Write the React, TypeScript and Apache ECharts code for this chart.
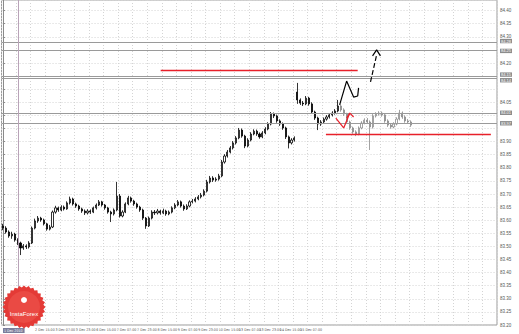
import React, { useEffect, useRef } from "react";
import * as echarts from "echarts";

// ---------- data ----------
const N_CATS = 170;
const Y_MIN = 83.2;
const Y_MAX = 84.4405;
const Y_STEP = 0.05;

// [open, close, low, high]
const blackCandles: number[][] = [
  [83.578, 83.57, 83.562, 83.586], [83.57, 83.555, 83.549, 83.577], [83.555, 83.54, 83.533, 83.561],
  [83.54, 83.547, 83.529, 83.556], [83.547, 83.524, 83.518, 83.552], [83.524, 83.513, 83.505, 83.531],
  [83.513, 83.494, 83.467, 83.518], [83.494, 83.502, 83.487, 83.509], [83.502, 83.498, 83.49, 83.508],
  [83.498, 83.513, 83.492, 83.52], [83.513, 83.57, 83.509, 83.576], [83.57, 83.597, 83.565, 83.606],
  [83.597, 83.608, 83.59, 83.616], [83.608, 83.601, 83.594, 83.613], [83.601, 83.586, 83.58, 83.606],
  [83.586, 83.566, 83.56, 83.59], [83.566, 83.574, 83.561, 83.582], [83.574, 83.631, 83.57, 83.637],
  [83.631, 83.647, 83.625, 83.655], [83.647, 83.639, 83.632, 83.652], [83.639, 83.65, 83.634, 83.657],
  [83.65, 83.643, 83.637, 83.656], [83.643, 83.666, 83.64, 83.672], [83.666, 83.681, 83.66, 83.69],
  [83.681, 83.662, 83.656, 83.686], [83.662, 83.654, 83.647, 83.667], [83.654, 83.643, 83.636, 83.659],
  [83.643, 83.635, 83.628, 83.648], [83.635, 83.628, 83.62, 83.641], [83.628, 83.635, 83.622, 83.642],
  [83.635, 83.631, 83.624, 83.641], [83.631, 83.647, 83.627, 83.652], [83.647, 83.658, 83.641, 83.664],
  [83.658, 83.67, 83.654, 83.677], [83.67, 83.658, 83.652, 83.674], [83.658, 83.647, 83.64, 83.662],
  [83.647, 83.631, 83.625, 83.651], [83.631, 83.624, 83.593, 83.636], [83.624, 83.639, 83.618, 83.645],
  [83.639, 83.692, 83.634, 83.746], [83.692, 83.616, 83.61, 83.7], [83.616, 83.631, 83.611, 83.638],
  [83.631, 83.662, 83.627, 83.668], [83.662, 83.685, 83.657, 83.693], [83.685, 83.673, 83.667, 83.69],
  [83.673, 83.662, 83.655, 83.678], [83.662, 83.65, 83.644, 83.667], [83.65, 83.639, 83.632, 83.655],
  [83.639, 83.608, 83.601, 83.644], [83.608, 83.578, 83.567, 83.612], [83.578, 83.608, 83.574, 83.614],
  [83.608, 83.631, 83.603, 83.638], [83.631, 83.628, 83.62, 83.639], [83.628, 83.635, 83.622, 83.643],
  [83.635, 83.628, 83.621, 83.64], [83.628, 83.635, 83.623, 83.644], [83.635, 83.624, 83.617, 83.64],
  [83.624, 83.631, 83.619, 83.637], [83.631, 83.647, 83.626, 83.653], [83.647, 83.658, 83.642, 83.665],
  [83.658, 83.67, 83.653, 83.677], [83.67, 83.654, 83.648, 83.675], [83.654, 83.643, 83.636, 83.66],
  [83.643, 83.654, 83.639, 83.661], [83.654, 83.67, 83.649, 83.676], [83.67, 83.673, 83.664, 83.681],
  [83.673, 83.681, 83.668, 83.688], [83.681, 83.689, 83.676, 83.696], [83.689, 83.696, 83.683, 83.704],
  [83.696, 83.711, 83.691, 83.718], [83.711, 83.746, 83.706, 83.754], [83.746, 83.761, 83.74, 83.769],
  [83.761, 83.753, 83.746, 83.768], [83.753, 83.757, 83.747, 83.764], [83.757, 83.769, 83.751, 83.777],
  [83.769, 83.822, 83.764, 83.83], [83.822, 83.845, 83.816, 83.852], [83.845, 83.86, 83.839, 83.868],
  [83.86, 83.876, 83.855, 83.883], [83.876, 83.895, 83.87, 83.902], [83.895, 83.914, 83.889, 83.921],
  [83.914, 83.944, 83.909, 83.952], [83.944, 83.921, 83.915, 83.95], [83.921, 83.883, 83.875, 83.926],
  [83.883, 83.906, 83.878, 83.913], [83.906, 83.929, 83.901, 83.936], [83.929, 83.94, 83.924, 83.947],
  [83.94, 83.929, 83.922, 83.946], [83.929, 83.918, 83.911, 83.935], [83.918, 83.933, 83.913, 83.94],
  [83.933, 83.948, 83.928, 83.955], [83.948, 83.967, 83.943, 83.974], [83.967, 84.005, 83.962, 84.013],
  [84.005, 83.998, 83.99, 84.011], [83.998, 83.979, 83.972, 84.003], [83.979, 83.967, 83.96, 83.985],
  [83.967, 83.952, 83.945, 83.973], [83.952, 83.918, 83.91, 83.957], [83.918, 83.895, 83.874, 83.923],
  [83.895, 83.906, 83.889, 83.913], [83.906, 83.914, 83.9, 83.92], [84.089, 84.059, 84.044, 84.124],
  [84.059, 84.047, 84.04, 84.065], [84.047, 84.044, 84.036, 84.055], [84.044, 84.066, 84.039, 84.074],
  [84.066, 84.044, 84.037, 84.071], [84.044, 84.013, 84.006, 84.05], [84.013, 83.99, 83.983, 84.018],
  [83.99, 83.967, 83.944, 83.995], [83.967, 83.975, 83.96, 83.982], [83.975, 83.986, 83.969, 83.992],
  [83.986, 83.994, 83.98, 84.001], [83.994, 84.002, 83.988, 84.009], [84.002, 84.009, 83.996, 84.016],
  [84.009, 84.017, 84.003, 84.024], [84.017, 84.036, 84.012, 84.059],
];

const grayCandles: number[][] = [
  [84.036, 84.021, 84.014, 84.042], [84.021, 84.005, 83.998, 84.027], [84.005, 83.975, 83.968, 84.01],
  [83.975, 83.952, 83.945, 83.98], [83.952, 83.937, 83.93, 83.957], [83.937, 83.929, 83.921, 83.943],
  [83.929, 83.952, 83.924, 83.958], [83.952, 83.971, 83.947, 83.978], [83.971, 83.982, 83.966, 83.989],
  [83.982, 83.975, 83.968, 83.99], [83.975, 83.956, 83.868, 83.981], [83.956, 83.998, 83.95, 84.005],
  [83.998, 84.005, 83.992, 84.012], [84.005, 84.009, 83.999, 84.016], [84.009, 84.002, 83.995, 84.015],
  [84.002, 83.979, 83.972, 84.008], [83.979, 83.963, 83.956, 83.985], [83.963, 83.956, 83.949, 83.97],
  [83.956, 83.967, 83.951, 83.974], [83.967, 83.986, 83.962, 83.993], [83.986, 84.009, 83.981, 84.021],
  [84.009, 83.994, 83.987, 84.015], [83.994, 83.979, 83.972, 84.0], [83.979, 83.975, 83.968, 83.986],
  [83.975, 83.963, 83.956, 83.981],
];

const firstXLabel = "1 Dec 2010";
const xTickIndex = [11, 18, 25, 32, 39, 46, 53, 60, 67, 74, 81, 88, 95, 102, 109];
const xTickLabels = [
  "2 Dec 15:00", "3 Dec 07:00", "3 Dec 23:00", "6 Dec 15:00", "7 Dec 07:00",
  "7 Dec 23:00", "8 Dec 15:00", "9 Dec 07:00", "9 Dec 23:00", "10 Dec 15:00",
  "13 Dec 07:00", "13 Dec 23:00", "14 Dec 15:00", "15 Dec 07:00", "15 Dec 23:00",
];

const grayLevels = [84.276, 84.253, 84.154, 84.135, 84.013, 83.967];
const grayLevelLabelShift = [-1, 1, -1.5, 1.5, 0, 0];
const currentPrice = 84.108;
const redLevelPrices = [84.173, 83.929];
const redLevelFrom = [54.1, 110.8];
const redLevelTo = [121.7, 167.4];
const vLineIdx = 5.3;

const blackZigzag = [[115.5, 84.04], [117.9, 84.131], [120.3, 84.07], [121.7, 84.074], [122.0, 84.105]];
const blackDashed = [[126.1, 84.128], [128.2, 84.231]];
const blackHead = [[126.8, 84.227], [128.2, 84.25], [129.5, 84.227]];
const redZigzag = [[114.2, 83.99], [116.9, 83.952], [119.0, 84.009]];
const redHead = [[117.9, 83.99], [119.0, 84.009], [120.3, 83.994]];

export default function App() {
  const ref = useRef<HTMLDivElement>(null);
  useEffect(() => {
    const chart = echarts.init(ref.current!, null, { renderer: "svg" });
    const cats: string[] = Array.from({ length: N_CATS }, () => "");
    cats[0] = firstXLabel;
    xTickIndex.forEach((idx, k) => (cats[idx] = xTickLabels[k]));

    const blackData: any[] = cats.map((_, i) => (i < blackCandles.length ? blackCandles[i] : "-"));
    const grayStart = blackCandles.length;
    const grayData: any[] = cats.map((_, i) =>
      i >= grayStart && i < grayStart + grayCandles.length ? grayCandles[i - grayStart] : "-"
    );

    const highlighted = [...grayLevels, currentPrice];

    const axisLbl = (txt: string, bg: string, dy = 0) => ({
      show: true,
      position: "end",
      formatter: txt,
      backgroundColor: bg,
      color: "#fff",
      fontSize: 4,
      lineHeight: 4.4,
      fontFamily: "Arial, sans-serif",
      padding: [0, 1, 0, 1],
      distance: 3,
      offset: [0, dy],
    });

    const starPts: number[][] = [];
    const cx = 24, cy = 307;
    for (let k = 0; k < 56; k++) {
      const a = (k / 56) * Math.PI * 2;
      const r = k % 2 ? 19.5 : 21.5;
      starPts.push([cx + r * Math.cos(a), cy + r * Math.sin(a)]);
    }

    const lineSeries = (data: number[][], color: string, type: string, width = 1) => ({
      type: "line",
      xAxisIndex: 1,
      yAxisIndex: 0,
      data,
      symbol: "none",
      silent: true,
      lineStyle: { color, width, type },
      z: 5,
    });

    chart.setOption({
      animation: false,
      backgroundColor: "#ffffff",
      grid: {
        left: 0, top: 0, right: 22, bottom: 9,
        show: true, borderColor: "#9a9a9a", borderWidth: 1, backgroundColor: "#fff",
      },
      xAxis: [
        {
          type: "category",
          data: cats,
          boundaryGap: true,
          axisLine: { show: false },
          axisTick: { show: false },
          axisLabel: {
            interval: (_i: number, v: string) => v !== "",
            align: "left",
            fontSize: 3.6,
            color: "#555",
            margin: 3,
            fontFamily: "'Liberation Sans Narrow', 'DejaVu Sans Condensed', Arial, sans-serif",
            formatter: (v: string, i: number) => (i === 0 ? `{hl|${v}}` : v),
            rich: {
              hl: { backgroundColor: "#7b7d9b", color: "#fff", fontSize: 3.6, padding: [1, 2, 0, 1] },
            },
          },
          splitLine: { show: true, interval: 4, lineStyle: { color: "#d4d4d4", type: [1, 2], width: 1 } },
        },
        { type: "value", min: -0.5, max: N_CATS - 0.5, show: false },
      ],
      yAxis: {
        type: "value",
        position: "right",
        min: Y_MIN,
        max: Y_MAX,
        interval: Y_STEP,
        axisLine: { show: true, lineStyle: { color: "#8a8a8a" } },
        axisTick: { show: true, length: 2, lineStyle: { color: "#8a8a8a" } },
        axisLabel: {
          fontSize: 4.5, color: "#555", margin: 3, showMaxLabel: false,
          fontFamily: "Arial, sans-serif",
          formatter: (v: number) =>
            highlighted.some((h) => Math.abs(h - v) < 0.021) ? "" : v.toFixed(2),
        },
        splitLine: { show: true, lineStyle: { color: "#d4d4d4", type: [1, 2], width: 1 } },
      },
      series: [
        {
          type: "candlestick",
          data: blackData,
          barWidth: 1.6,
          itemStyle: { color: "#ffffff", color0: "#000000", borderColor: "#000000", borderColor0: "#000000", borderWidth: 0.8 },
          z: 4,
        },
        {
          type: "candlestick",
          data: grayData,
          barWidth: 1.6,
          itemStyle: { color: "#ffffff", color0: "#8a8a8a", borderColor: "#8a8a8a", borderColor0: "#8a8a8a", borderWidth: 0.8 },
          z: 4,
        },
        {
          ...lineSeries(blackZigzag, "#000", "solid", 1.2),
          markLine: {
            silent: true,
            symbol: ["none", "none"],
            animation: false,
            data: [
              ...grayLevels.map((p, k) => ({
                yAxis: p,
                lineStyle: { color: "#9a9a9a", width: 1, type: "solid" },
                label: axisLbl(p.toFixed(2), "#8c8c8c", grayLevelLabelShift[k]),
              })),
              {
                yAxis: currentPrice,
                lineStyle: { color: "#000", width: 0, opacity: 0 },
                label: axisLbl(currentPrice.toFixed(2), "#111"),
              },
              ...redLevelPrices.map((p, k) => [
                { coord: [redLevelFrom[k], p], lineStyle: { color: "#e8202a", width: 1.3, type: "solid" }, label: { show: false } },
                { coord: [redLevelTo[k], p] },
              ]),
              {
                xAxis: vLineIdx,
                lineStyle: { color: "#b9a3b8", width: 1, type: "solid" },
                label: { show: false },
              },
            ],
          },
        },
        lineSeries(blackDashed, "#000", "dashed", 1.2),
        lineSeries(blackHead, "#000", "solid", 1.2),
        lineSeries(redZigzag, "#e8202a", "solid", 1.2),
        lineSeries(redHead, "#e8202a", "solid", 1.2),
      ],
      graphic: [
        {
          type: "polygon",
          shape: { points: starPts },
          style: { fill: "#e43a36" },
          z: 10,
        },
        {
          type: "circle",
          shape: { cx, cy, r: 16 },
          style: { fill: "#ea4a44" },
          z: 10,
        },
        {
          type: "circle",
          shape: { cx, cy: 300, r: 3 },
          style: { fill: "#fff" },
          z: 11,
        },
        {
          type: "text",
          x: cx,
          y: 314,
          style: {
            text: "InstaForex",
            fill: "#fff",
            fontSize: 6,
            fontFamily: "Arial, sans-serif",
            align: "center",
            verticalAlign: "middle",
          },
          z: 11,
        },
      ],
    });
    return () => chart.dispose();
  }, []);
  return (
    <div
      ref={ref}
      style={{ position: "fixed", left: 0, top: 0, width: 519, height: 334, background: "#fff" }}
    />
  );
}
